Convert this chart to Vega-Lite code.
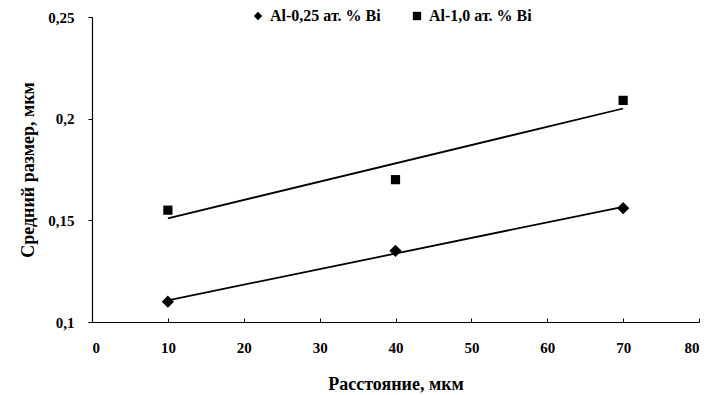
{
  "$schema": "https://vega.github.io/schema/vega-lite/v6.json",
  "width": 607,
  "height": 305,
  "autosize": {"type": "none"},
  "padding": {"left": 92, "top": 17, "right": 11, "bottom": 73},
  "background": "white",
  "config": {
    "view": {"stroke": null},
    "font": "Liberation Serif",
    "axis": {
      "grid": false,
      "domainColor": "black",
      "domainWidth": 1.2,
      "tickColor": "black",
      "labelColor": "black",
      "titleColor": "black",
      "labelFont": "Liberation Serif",
      "titleFont": "Liberation Serif",
      "labelFontWeight": "bold",
      "titleFontWeight": "bold",
      "labelFontSize": 15,
      "titleFontSize": 18
    },
    "legend": {
      "title": null,
      "orient": "none",
      "legendX": 158,
      "legendY": -9,
      "direction": "horizontal",
      "labelFont": "Liberation Serif",
      "labelFontWeight": "bold",
      "labelFontSize": 16,
      "labelColor": "black",
      "symbolFillColor": "black",
      "symbolStrokeColor": "black",
      "symbolSize": 70,
      "columnPadding": 28
    }
  },
  "data": {
    "values": [
      {"x": 10, "y": 0.110, "series": "Al-0,25 ат. % Bi"},
      {"x": 40, "y": 0.135, "series": "Al-0,25 ат. % Bi"},
      {"x": 70, "y": 0.156, "series": "Al-0,25 ат. % Bi"},
      {"x": 10, "y": 0.155, "series": "Al-1,0 ат. % Bi"},
      {"x": 40, "y": 0.170, "series": "Al-1,0 ат. % Bi"},
      {"x": 70, "y": 0.209, "series": "Al-1,0 ат. % Bi"}
    ]
  },
  "encoding": {
    "x": {
      "field": "x",
      "type": "quantitative",
      "scale": {"domain": [0, 80], "nice": false, "zero": false},
      "axis": {"values": [0, 10, 20, 30, 40, 50, 60, 70, 80], "title": "Расстояние, мкм", "tickSize": -4, "labelPadding": 22, "titlePadding": 20}
    },
    "y": {
      "field": "y",
      "type": "quantitative",
      "scale": {"domain": [0.1, 0.25], "nice": false, "zero": false},
      "axis": {"values": [0.1, 0.15, 0.2, 0.25], "title": "Средний размер, мкм", "tickSize": 4, "labelPadding": 14, "titlePadding": 10,
        "labelExpr": "replace(format(datum.value, '~g'), '.', ',')"}
    }
  },
  "layer": [
    {
      "transform": [{"regression": "y", "on": "x", "groupby": ["series"]}],
      "mark": {"type": "line", "color": "black", "strokeWidth": 1.8},
      "encoding": {"detail": {"field": "series"}}
    },
    {
      "transform": [{"filter": "datum.series === 'Al-0,25 ат. % Bi'"}],
      "mark": {"type": "point", "filled": true, "color": "black", "opacity": 1, "size": 150},
      "encoding": {
        "shape": {
          "field": "series",
          "type": "nominal",
          "scale": {"domain": ["Al-0,25 ат. % Bi", "Al-1,0 ат. % Bi"], "range": ["diamond", "square"]}
        }
      }
    },
    {
      "transform": [{"filter": "datum.series === 'Al-1,0 ат. % Bi'"}],
      "mark": {"type": "point", "filled": true, "color": "black", "opacity": 1, "size": 85},
      "encoding": {
        "shape": {
          "field": "series",
          "type": "nominal",
          "scale": {"domain": ["Al-0,25 ат. % Bi", "Al-1,0 ат. % Bi"], "range": ["diamond", "square"]}
        }
      }
    }
  ]
}
